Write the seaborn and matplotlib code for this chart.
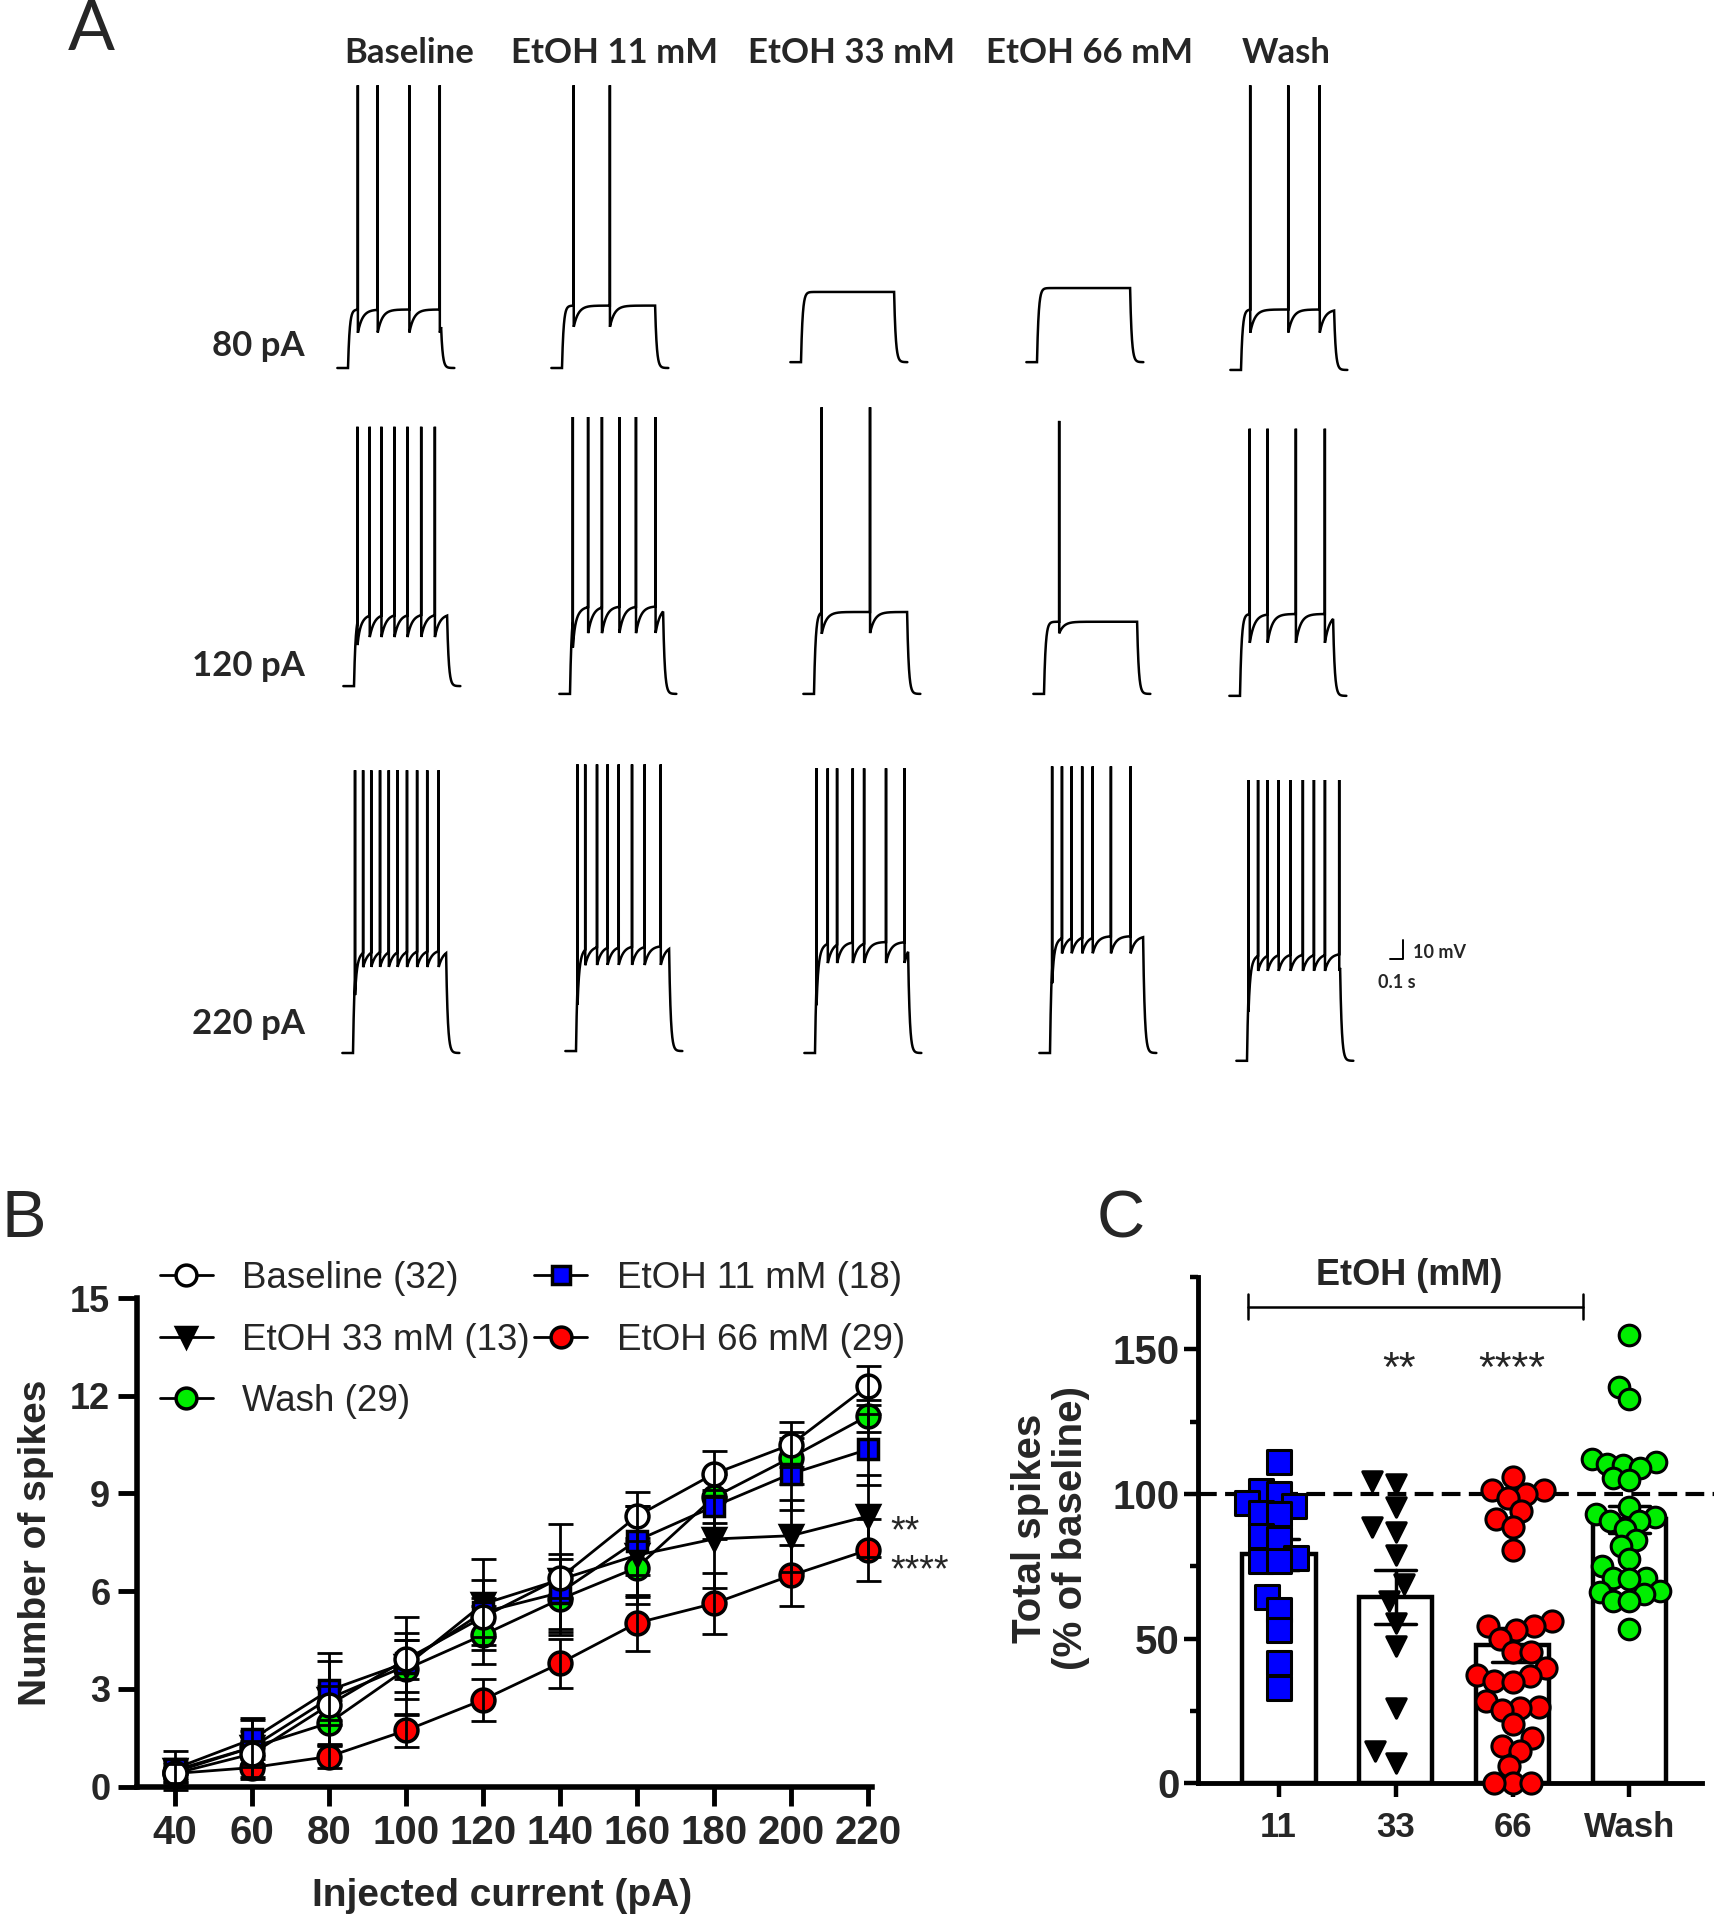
import warnings
warnings.filterwarnings("ignore")
import numpy as np
import pandas as pd
import matplotlib
matplotlib.use("Agg")
import matplotlib.pyplot as plt
import seaborn as sns
from matplotlib import font_manager
from matplotlib.lines import Line2D
from matplotlib.markers import MarkerStyle
from matplotlib.transforms import Affine2D

# ------------------------------------------------------------------ data
# Panel A: example traces (spike times in s after step onset)
conditions = ["Baseline", "EtOH 11 mM", "EtOH 33 mM", "EtOH 66 mM", "Wash"]
currents_A = ["80 pA", "120 pA", "220 pA"]
STEP_DUR = 0.70
spikes_80 = [[0.074, 0.223, 0.461, 0.690], [0.088, 0.360], [], [], [0.069, 0.355, 0.592]]
spikes_120 = [[0.026, 0.118, 0.206, 0.304, 0.402, 0.505, 0.608],
              [0.021, 0.136, 0.240, 0.371, 0.496, 0.643],
              [0.058, 0.421], [0.114], [0.073, 0.207, 0.420, 0.638]]
spikes_220 = [[0.015, 0.076, 0.137, 0.203, 0.269, 0.335, 0.406, 0.482, 0.558, 0.644],
              [0.011, 0.069, 0.158, 0.237, 0.321, 0.421, 0.516, 0.637],
              [0.011, 0.096, 0.166, 0.284, 0.369, 0.534, 0.673],
              [0.016, 0.090, 0.163, 0.242, 0.321, 0.458, 0.606],
              [0.011, 0.083, 0.155, 0.238, 0.327, 0.420, 0.503, 0.586, 0.693]]
rest_mV = [[-70, -70, -67, -67, -71], [-68, -72, -72, -72, -73], [-70, -69, -70, -70, -74]]
plateau_mV = [[30, 32, 36, 38, 31], [37, 45, 42, 37, 42], [53, 54, 57, 60, 55]]   # above rest
trough_mV = [[18, 21, 36, 38, 19], [25, 31, 31, 31, 27], [44, 44, 46, 51, 46]]    # above rest
peak_mV = [[75, 75, 75, 75, 75], [65, 70, 75, 68, 64], [75, 78, 76, 77, 70]]

# Panel B: input-output curves (mean, SEM)
currents = [40, 60, 80, 100, 120, 140, 160, 180, 200, 220]
baseline_mean = [0.4, 1.0, 2.5, 3.9, 5.2, 6.4, 8.3, 9.6, 10.5, 12.3]
baseline_sem = [0.3, 0.4, 0.6, 0.6, 0.6, 0.6, 0.75, 0.7, 0.7, 0.6]
etoh11_mean = [0.55, 1.45, 2.95, 3.8, 5.35, 5.95, 7.55, 8.6, 9.6, 10.35]
etoh11_sem = [0.3, 0.6, 0.9, 0.9, 1.0, 1.2, 1.05, 1.0, 1.1, 1.1]
etoh33_mean = [0.5, 1.2, 2.7, 3.7, 5.6, 6.35, 7.1, 7.6, 7.7, 8.3]
etoh33_sem = [0.6, 0.9, 1.4, 1.5, 1.4, 1.7, 1.5, 1.5, 1.1, 1.25]
etoh66_mean = [0.4, 0.58, 0.92, 1.72, 2.66, 3.78, 5.02, 5.62, 6.48, 7.26]
etoh66_sem = [0.2, 0.35, 0.35, 0.5, 0.65, 0.75, 0.85, 0.95, 0.95, 0.95]
wash_mean = [0.45, 1.2, 1.95, 3.6, 4.65, 5.75, 6.72, 8.88, 10.1, 11.38]
wash_sem = [0.3, 0.5, 0.7, 0.9, 0.9, 0.9, 0.9, 0.8, 0.8, 0.5]

# Panel C: total spikes (% of baseline), individual cells
groups_C = ["11", "33", "66", "Wash"]
c11 = [111, 101, 100, 97, 96, 93.5, 93, 85.5, 84.5, 78, 77, 77, 64.5, 60, 53, 41.5, 33]
c33 = [104.5, 103.5, 95.5, 88.5, 87, 79, 69, 63, 55.5, 47.5, 26, 11, 7]
c66 = [106, 101.5, 101.5, 100, 98.5, 94, 91.5, 88.5, 80.5, 56, 54.5, 54.5, 53, 50,
       45.5, 45.5, 40, 37.5, 37, 35.5, 35, 28.5, 26.5, 26, 25.5, 20.5, 15.5, 13, 11, 6, 0, 0, 0]
cwash = [155, 137, 133, 112, 111, 110.5, 110, 109, 105.5, 105, 95.5, 93, 92, 90.5, 90.5,
         88, 84, 82, 77.5, 75, 71, 71, 70.5, 66.5, 66, 65.5, 63, 63, 53.5]

# ------------------------------------------------------------------ style
sns.set_theme(style="ticks")
names = {f.name for f in font_manager.fontManager.ttflist}
ARIAL = "Liberation Sans" if "Liberation Sans" in names else "DejaVu Sans"
CAL = "Lato" if "Lato" in names else ARIAL
plt.rcParams["font.family"] = [ARIAL, "DejaVu Sans"]

W, H = 1715, 1920
fig = plt.figure(figsize=(W / 100, H / 100), dpi=100)
fig.patch.set_facecolor("white")


def fx(px):
    return px / W


def fy(py):
    return 1 - py / H


# ------------------------------------------------------------------ panel A
PX_S, PX_MV, A_BOTTOM = 133.0, 1.95, 1130
axA = fig.add_axes([0, fy(A_BOTTOM), 1, A_BOTTOM / H])
axA.set_xlim(0, W / PX_S)
axA.set_ylim(0, A_BOTTOM / PX_MV)
axA.axis("off")

ONSET_PX = [[348, 562, 801, 1037, 1241], [354, 570, 814, 1044, 1240], [353, 576, 815, 1050, 1247]]
REST_PX = [368, 690, 1053]


def make_trace(spk, rest, plat, trough, peak, dur=STEP_DUR, dt=0.0004):
    t = np.arange(-0.08, dur + 0.10, dt)
    v = np.full_like(t, float(rest))
    on = (t >= 0) & (t < dur)
    ton = t[on]
    von = rest + plat * (1 - np.exp(-ton / 0.012))
    sp = np.asarray(spk, dtype=float)
    if sp.size:
        idx = np.searchsorted(sp, ton, side="right") - 1
        has = idx >= 0
        last = sp[np.clip(idx, 0, None)]
        ahp = (plat - trough) * np.exp(-(ton - last) / 0.035)
        von = np.where(has, von - ahp, von)
    v[on] = von
    off = t >= dur
    v[off] = rest + (von[-1] - rest) * np.exp(-(t[off] - dur) / 0.012)
    for s in sp:
        v[np.argmin(np.abs(t - s))] = peak
    return t, v


all_spikes = [spikes_80, spikes_120, spikes_220]
for r in range(3):
    for c in range(5):
        t, v = make_trace(all_spikes[r][c], rest_mV[r][c], plateau_mV[r][c],
                          trough_mV[r][c], peak_mV[r][c])
        xs = t + ONSET_PX[r][c] / PX_S
        ys = (v + 70) + (A_BOTTOM - REST_PX[r]) / PX_MV
        axA.plot(xs, ys, color="black", lw=1.8, solid_joinstyle="miter")

# scale bar: 10 mV / 0.1 s
sb_x = 1403 / PX_S
sb_y = (A_BOTTOM - 959) / PX_MV
axA.plot([sb_x - 0.1, sb_x, sb_x], [sb_y, sb_y, sb_y + 10], color="black", lw=1.4)
fig.text(fx(1413), fy(952), "10 mV", fontsize=13, family=[CAL, "DejaVu Sans"],
         fontweight="bold", ha="left", va="center")
fig.text(fx(1378), fy(983), "0.1 s", fontsize=13, family=[CAL, "DejaVu Sans"],
         fontweight="bold", ha="left", va="center")

HEAD_X = [409, 615, 852, 1090, 1286]
for name, x in zip(conditions, HEAD_X):
    fig.text(fx(x), fy(53), name, fontsize=25, family=[CAL, "DejaVu Sans"],
             fontweight="bold", ha="center", va="center")
ROW_Y = [346, 666, 1024]
for lab, y in zip(currents_A, ROW_Y):
    fig.text(fx(305), fy(y), lab, fontsize=25, family=[CAL, "DejaVu Sans"],
             fontweight="bold", ha="right", va="center")
fig.text(fx(91), fy(31), "A", fontsize=50, family=[CAL, "DejaVu Sans"], ha="center", va="center")
fig.text(fx(24), fy(1220), "B", fontsize=48, ha="center", va="center")
fig.text(fx(1121), fy(1220), "C", fontsize=48, ha="center", va="center")

# ------------------------------------------------------------------ panel B
B_L, B_R, B_T, B_B = 136.7, 871.7, 1298.0, 1786.5
axB = fig.add_axes([fx(B_L), fy(B_B), (B_R - B_L) / W, (B_B - B_T) / H])
series = [
    ("EtOH 66 mM (29)", etoh66_mean, etoh66_sem, "o", "#FF0000"),
    ("Wash (29)", wash_mean, wash_sem, "o", "#00EE00"),
    ("EtOH 33 mM (13)", etoh33_mean, etoh33_sem, "v", "black"),
    ("EtOH 11 mM (18)", etoh11_mean, etoh11_sem, "s", "#0000FF"),
    ("Baseline (32)", baseline_mean, baseline_sem, "o", "white"),
]
handles = {}
for i, (lab, m, s, mk, fc) in enumerate(series):
    msz = 15 if mk == "s" else 16.5
    sns.lineplot(x=currents, y=m, ax=axB, color="black", lw=2, marker=mk, markersize=msz,
                 markerfacecolor=fc, markeredgecolor="black", markeredgewidth=2.5,
                 zorder=4 + 2 * i, legend=False, clip_on=False)
    axB.errorbar(currents, m, yerr=s, fmt="none", ecolor="black", elinewidth=2,
                 capsize=9, capthick=2, zorder=5 + 2 * i, clip_on=False)
    handles[lab] = Line2D([], [], color="black", lw=2, marker=mk, markersize=msz - 1.5,
                          markerfacecolor=fc, markeredgecolor="black", markeredgewidth=2.5)

axB.set_xlim(30.1, 221)
axB.set_ylim(0, 15)
axB.set_xticks(currents)
axB.set_yticks([0, 3, 6, 9, 12, 15])
for sp in ["top", "right"]:
    axB.spines[sp].set_visible(False)
for sp in ["left", "bottom"]:
    axB.spines[sp].set_linewidth(4)
    axB.spines[sp].set_color("black")
axB.tick_params(axis="x", direction="out", length=14, width=3.5, pad=6, color="black")
axB.tick_params(axis="y", direction="out", length=14, width=3.5, pad=5, color="black")
for lbl in axB.get_xticklabels():
    lbl.set_fontweight("bold")
    lbl.set_fontsize(29)
for lbl in axB.get_yticklabels():
    lbl.set_fontweight("bold")
    lbl.set_fontsize(26)
axB.set_xlabel("Injected current (pA)", fontsize=28, fontweight="bold")
axB.set_ylabel("Number of spikes", fontsize=28, fontweight="bold")
axB.xaxis.set_label_coords(0.497, -0.188)
axB.yaxis.set_label_coords(-0.112, 0.498)
axB.text(225.8, 7.5, "**", fontsize=27, ha="left", va="baseline", clip_on=False)
axB.text(225.8, 6.3, "****", fontsize=27, ha="left", va="baseline", clip_on=False)

order = ["Baseline (32)", "EtOH 33 mM (13)", "Wash (29)", "EtOH 11 mM (18)", "EtOH 66 mM (29)"]
leg = fig.legend([handles[k] for k in order], order, ncol=2, loc="upper left",
                 bbox_to_anchor=(fx(160), fy(1261)), frameon=False, borderpad=0,
                 borderaxespad=0, handlelength=1.44, handletextpad=0.8, columnspacing=0.12,
                 labelspacing=0.72, prop={"family": [ARIAL], "size": 26.5})

# ------------------------------------------------------------------ panel C
axC = fig.add_axes([fx(1198), fy(1783.3), (1702 - 1198) / W, (1783.3 - 1277) / H])
dfC = pd.DataFrame({
    "group": ["11"] * len(c11) + ["33"] * len(c33) + ["66"] * len(c66) + ["Wash"] * len(cwash),
    "value": c11 + c33 + c66 + cwash,
})
sns.barplot(data=dfC, x="group", y="value", order=groups_C, errorbar="se", color="white",
            edgecolor="black", linewidth=3.2, width=0.63, capsize=0.35, saturation=1,
            err_kws={"color": "black", "linewidth": 2.5}, ax=axC, zorder=1)
axC.axhline(100, xmin=0, xmax=1.03, color="black", lw=3, ls=(0, (4.5, 2)), clip_on=False, zorder=2)
# (marker, colour, swarm spacing size, drawn scale)
styles_C = {"11": ("s", "#0000FF", 10.0, 1.7), "33": ("v", "black", 14.0, 1.0),
            "66": ("o", "#FF0000", 10.5, 1.45), "Wash": ("o", "#00EE00", 9.0, 1.65)}
for g in groups_C:
    mk, col, sz, scl = styles_C[g]
    mstyle = MarkerStyle(mk, transform=Affine2D().scale(scl))
    sns.swarmplot(data=dfC[dfC["group"] == g], x="group", y="value", order=groups_C,
                  marker=mstyle, color=col, size=sz, edgecolor="black", linewidth=2.2,
                  ax=axC, zorder=5, warn_thresh=1.0, clip_on=False)
axC.set_xlim(-0.69, 3.62)
axC.set_ylim(0, 175)
axC.set_yticks([0, 50, 100, 150])
axC.set_yticks([25, 75, 125, 175], minor=True)
for sp in ["top", "right"]:
    axC.spines[sp].set_visible(False)
for sp in ["left", "bottom"]:
    axC.spines[sp].set_linewidth(3.5)
    axC.spines[sp].set_color("black")
axC.tick_params(axis="both", which="major", direction="out", length=10, width=3.2, color="black")
axC.tick_params(axis="y", which="minor", direction="out", length=6, width=3.2, color="black", left=True)
axC.tick_params(axis="x", pad=10)
axC.tick_params(axis="y", pad=3)
for lbl in axC.get_xticklabels():
    lbl.set_fontweight("bold")
    lbl.set_fontsize(25)
for lbl in axC.get_yticklabels():
    lbl.set_fontweight("bold")
    lbl.set_fontsize(29)
axC.set_xlabel("")
axC.set_ylabel("Total spikes\n(% of baseline)", fontsize=29, fontweight="bold", linespacing=1.1)
axC.yaxis.set_label_coords(-0.214, 0.504)
axC.plot([-0.26, 2.6], [164.8, 164.8], color="black", lw=1.8, clip_on=False)
axC.plot([-0.26, -0.26], [160.6, 169.0], color="black", lw=1.8, clip_on=False)
axC.plot([2.6, 2.6], [160.6, 169.0], color="black", lw=1.8, clip_on=False)
axC.text(1.12, 175.4, "EtOH (mM)", fontsize=26, fontweight="bold", ha="center", va="center", clip_on=False)
axC.text(1.03, 139, "**", fontsize=31, ha="center", va="baseline")
axC.text(1.99, 139, "****", fontsize=31, ha="center", va="baseline")

fig.savefig("out.png", dpi=100, facecolor="white")
